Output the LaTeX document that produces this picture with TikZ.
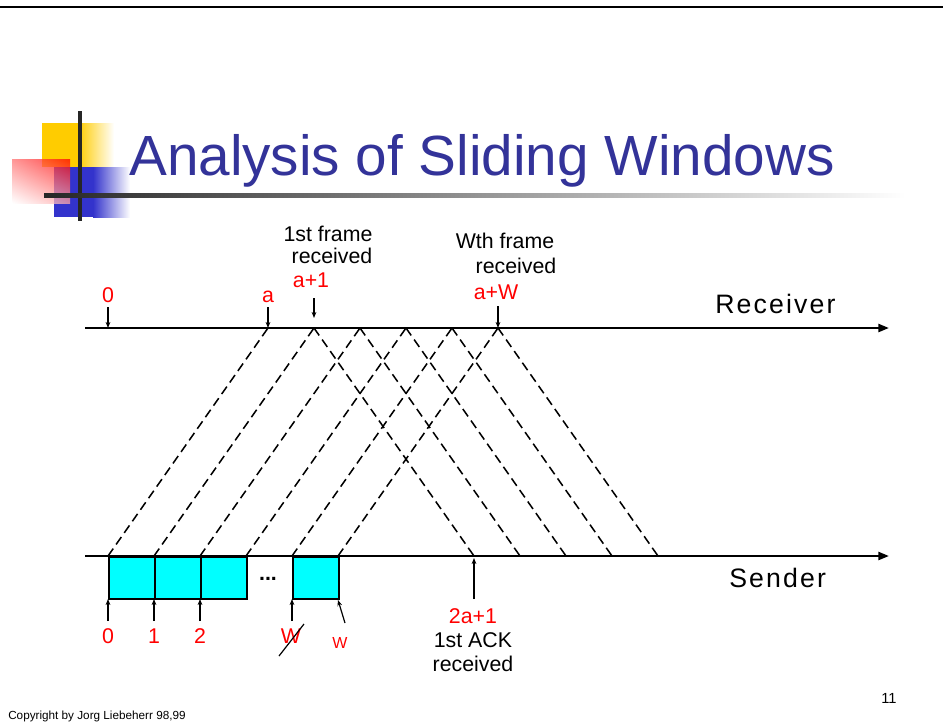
\documentclass[tikz,border=0pt]{standalone}
\usepackage{fontspec}
\setmainfont{Liberation Sans}
\newfontfamily\widesans[LetterSpace=8]{Liberation Sans}
\usetikzlibrary{arrows.meta,positioning,shadings}
\definecolor{titleblue}{HTML}{333399}
\definecolor{logoblue}{HTML}{3333CC}
\definecolor{logoyellow}{HTML}{FFCC00}
\definecolor{lblred}{HTML}{FF0000}
\definecolor{framecyan}{HTML}{00FFFF}
\tikzset{
  axis/.style={line width=1.7pt,-{Triangle[length=8pt,width=6pt]}},
  frame/.style={line width=1.15pt,dash pattern=on 6.8pt off 3.8pt},
  tick/.style={line width=0.9pt,-{Stealth[length=4.5pt,width=3.5pt]}},
  lbl/.style={inner sep=0pt,font=\fontsize{16}{19}\selectfont},
  num/.style={lbl,text=lblred},
  side/.style={inner sep=0pt,font=\widesans\fontsize{20}{24}\selectfont},
  slot/.style={draw,line width=1.4pt,fill=framecyan,inner sep=0pt,
    minimum width=34.5pt,minimum height=31.5pt},
  title/.style={inner sep=0pt,text=titleblue,font=\fontsize{42.5}{50}\selectfont}
}

\begin{document}
\begin{tikzpicture}[x=0.75pt,y=-0.75pt]
  \useasboundingbox (0,0) rectangle (943,722);
  \draw[line width=1.8pt] (0,7) -- (943,7);

  % logo and title bar
  \fill[logoyellow] (42,123) rectangle (78,167);
  \shade[left color=logoyellow,right color=white] (78,123) rectangle (114,167);
  \fill[logoblue] (54,167) rectangle (93,217);
  \shade[left color=logoblue,right color=white] (93,167) rectangle (130,217);
  \shade[upper right=red,upper left=red!55,lower right=red!35,lower left=white,opacity=0.75]
    (12,159) rectangle (70,203);
  \fill[black!85] (78,111) rectangle (82,221);
  \shade[left color=black!85,right color=white] (44,193) rectangle (905,197);
  \node[title,anchor=base west] (title) at (129,175) {Analysis of Sliding Windows};

  % time axes
  \coordinate (rxL) at (85,328);
  \coordinate (rxR) at (889,328);
  \coordinate (sxL) at (85,556);
  \coordinate (sxR) at (889,556);

  % frames out, acks back
  \foreach \i/\xs in {0/108,1/154,2/200,3/246,4/292,5/338}{
    \coordinate (s\i) at (\xs,556);
    \coordinate (r\i) at (\xs+160,328);
  }
  \foreach \i/\xk in {1/474,2/520,3/566,4/612,5/658}
    \coordinate (k\i) at (\xk,556);
  \foreach \i in {0,...,5}
    \draw[frame] (s\i) -- (r\i);
  \foreach \i in {1,...,5}
    \draw[frame] (r\i) -- (k\i);

  \foreach \i in {0,1,2,4}
    \node[slot,anchor=north west] (b\i) at (s\i) {};
  \node[lbl,anchor=base] (dots) at (268,580) {\textbf{...}};

  \draw[axis] (rxL) -- (rxR);
  \draw[axis] (sxL) -- (sxR);
  \node[side,anchor=base west] (recv) at (715,313) {Receiver};
  \node[side,anchor=base west] (send) at (729,587) {Sender};

  % receiver side marks
  \foreach \n/\xa/\ya/\yb in {z/108/307/328,a/268/307/328,a1/314/298/318,aw/498/306/328}{
    \coordinate (rt-\n) at (\xa,\ya);
    \coordinate (re-\n) at (\xa,\yb);
    \draw[tick] (rt-\n) -- (re-\n);
  }
  \node[num,anchor=base] (lz) at (108,302) {0};
  \node[num,anchor=base] (la) at (268,302) {a};
  \node[num,anchor=base] (la1) at (311,287) {a+1};
  \node[num,anchor=base] (law) at (496,299) {a+W};
  \node[lbl,anchor=base] (first1) at (328,241) {1st frame};
  \node[lbl,anchor=base] (first2) at (332,263) {received};
  \node[lbl,anchor=base] (last1) at (505,248) {Wth frame};
  \node[lbl,anchor=base] (last2) at (516,273) {received};

  % sender side marks
  \foreach \n/\xa/\ya/\xb/\yb in {0/108/621/108/599,1/154/621/154/599,2/200/621/200/599,
      w1/292/621/292/599,w/345/623/338/600,ack/474/599/474/558}{
    \coordinate (st-\n) at (\xa,\ya);
    \coordinate (se-\n) at (\xb,\yb);
    \draw[tick] (st-\n) -- (se-\n);
  }
  \foreach \n/\xa/\t in {0/108/0,1/154/1,2/200/2,w1/291/W}
    \node[num,anchor=base] (ls\n) at (\xa,643) {\t};
  \coordinate (cutA) at (279,656);
  \coordinate (cutB) at (304,624);
  \draw[line width=0.9pt] (cutA) -- (cutB);
  \node[num,anchor=base,font=\fontsize{12}{14}\selectfont] (lsw) at (340,648) {W};
  \node[num,anchor=base] (lack) at (473,623) {2a+1};
  \node[lbl,anchor=base] (ack1) at (473,647) {1st ACK};
  \node[lbl,anchor=base] (ack2) at (473,671) {received};

  \node[anchor=base west,inner sep=0pt,font=\fontsize{8.8}{10}\selectfont] (copy) at (8,719)
    {Copyright by Jorg Liebeherr 98,99};
  \node[anchor=base,inner sep=0pt,font=\fontsize{11}{13}\selectfont] (page) at (889,703) {11};
\end{tikzpicture}
\end{document}
